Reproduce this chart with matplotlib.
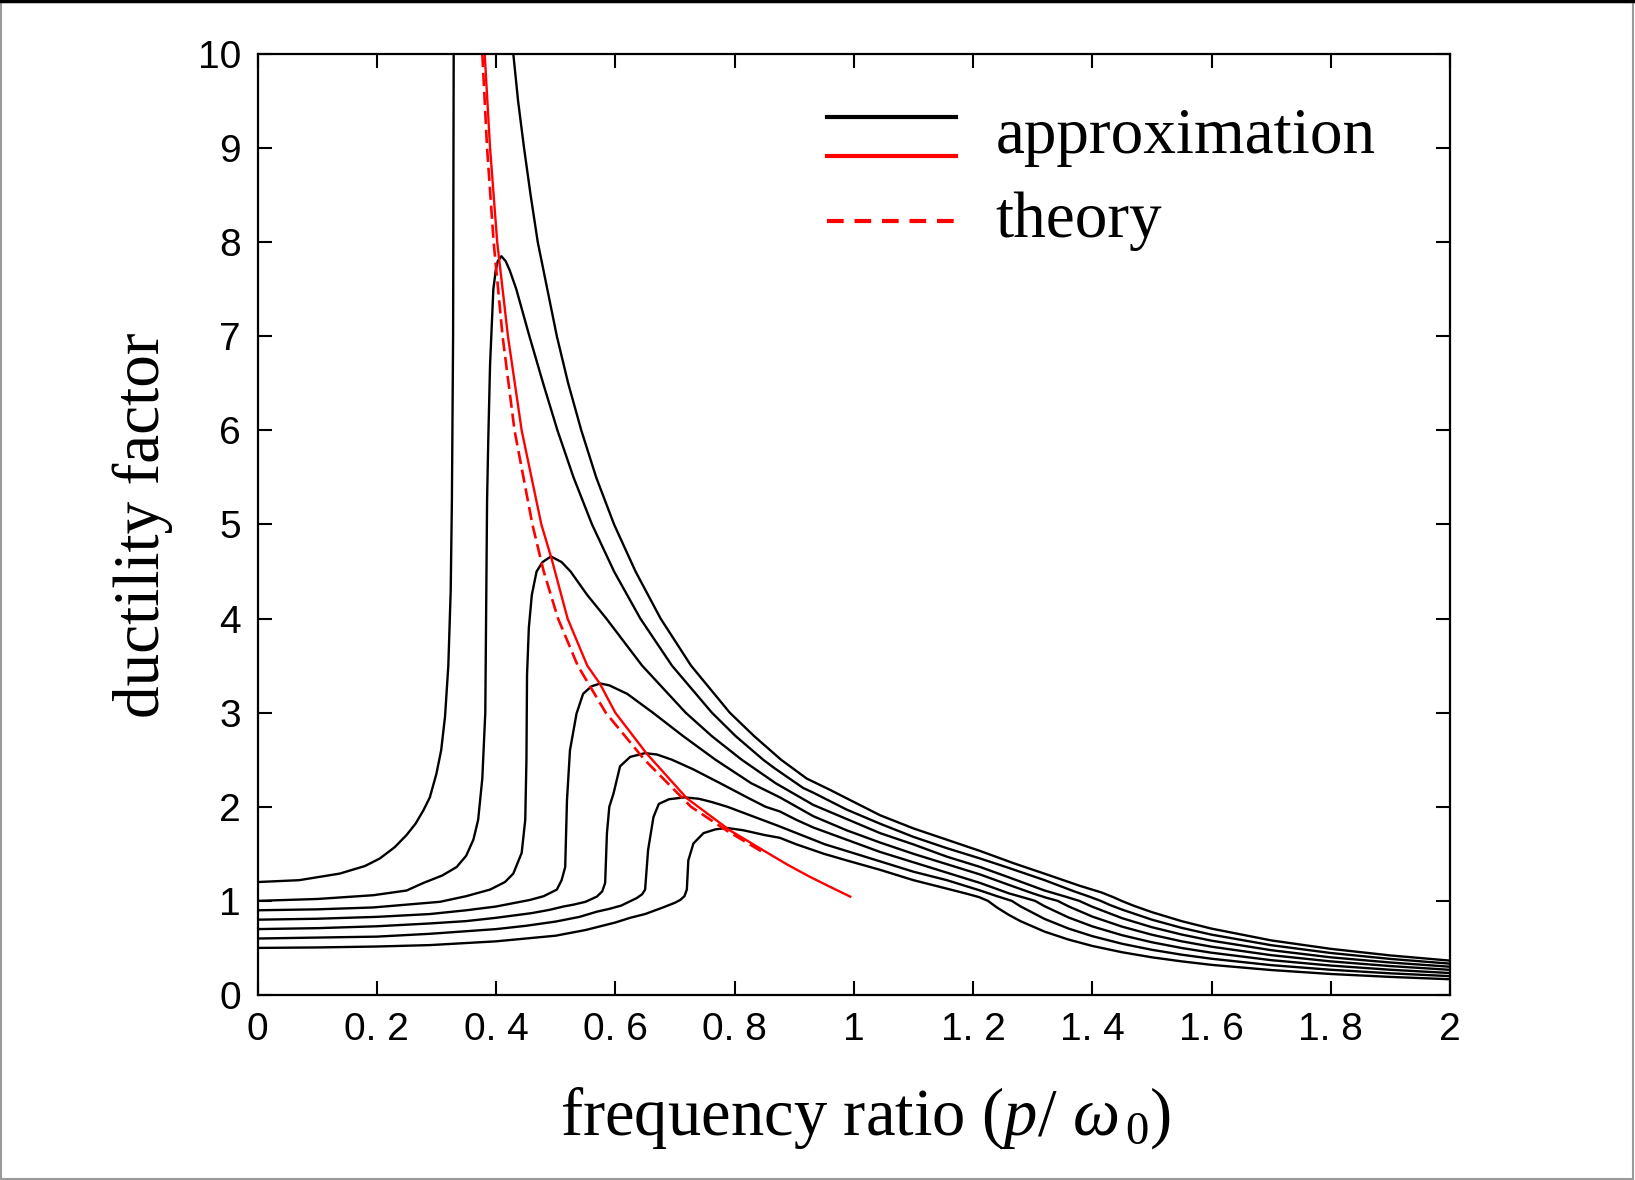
import matplotlib
matplotlib.use("Agg")
import matplotlib.pyplot as plt
from matplotlib.lines import Line2D
from matplotlib.patches import Rectangle

plt.rcParams["mathtext.fontset"] = "custom"
plt.rcParams["mathtext.rm"] = "Liberation Serif"
plt.rcParams["mathtext.it"] = "Liberation Serif:italic"

# ---- data: ductility factor vs frequency ratio ----
# curve starting at 1.2 : lower branch runs off the top, upper branch comes back
c120_lo_x = [0.0, 0.07, 0.138, 0.18, 0.205, 0.23, 0.25, 0.265, 0.278, 0.289,
             0.300, 0.308, 0.3145, 0.320, 0.324, 0.326, 0.328, 0.329]
c120_lo_y = [1.20, 1.22, 1.29, 1.37, 1.45, 1.57, 1.70, 1.82, 1.96, 2.10,
             2.35, 2.60, 2.96, 3.50, 4.30, 5.26, 7.00, 10.0]
c120_hi_x = [0.429, 0.437, 0.447, 0.458, 0.470, 0.486, 0.502, 0.521, 0.543,
             0.568, 0.598, 0.634, 0.676, 0.727, 0.792, 0.833, 0.878, 0.921,
             0.960, 0.988, 1.044, 1.100, 1.156, 1.212, 1.268, 1.324, 1.379,
             1.415, 1.435, 1.449, 1.47, 1.50, 1.55, 1.60, 1.70, 1.80, 1.90,
             2.00]
c120_hi_y = [10.0, 9.5, 9.0, 8.5, 8.0, 7.5, 7.0, 6.5, 6.0,
             5.5, 5.0, 4.5, 4.0, 3.5, 3.0, 2.75, 2.5, 2.3,
             2.18, 2.09, 1.91, 1.77, 1.65, 1.53, 1.40, 1.28, 1.16,
             1.09, 1.04, 1.00, 0.947, 0.88, 0.784, 0.705, 0.58, 0.49, 0.42,
             0.365]

c100_x = [0.0, 0.10, 0.194, 0.250, 0.278, 0.310, 0.334, 0.350, 0.362, 0.370,
          0.377, 0.382, 0.385, 0.387, 0.390, 0.3955, 0.3995, 0.403, 0.409,
          0.416, 0.423, 0.434, 0.456, 0.479, 0.503, 0.530, 0.561, 0.598,
          0.642, 0.695, 0.762, 0.802, 0.848, 0.867, 0.915, 0.932, 0.988,
          1.044, 1.100, 1.156, 1.212, 1.260, 1.320, 1.370, 1.395, 1.414,
          1.43, 1.45, 1.50, 1.55, 1.60, 1.70, 1.80, 1.90, 2.00]
c100_y = [1.00, 1.02, 1.06, 1.11, 1.19, 1.27, 1.36, 1.48, 1.65, 1.86,
          2.30, 3.00, 5.26, 5.90, 6.70, 7.50, 7.70, 7.80, 7.85,
          7.80, 7.70, 7.50, 7.00, 6.50, 6.00, 5.50, 5.00, 4.50,
          4.00, 3.50, 3.00, 2.75, 2.50, 2.41, 2.20, 2.15, 1.97,
          1.82, 1.68, 1.56, 1.45, 1.35, 1.22, 1.10, 1.045, 1.00,
          0.955, 0.907, 0.80, 0.713, 0.641, 0.529, 0.446, 0.383, 0.333]

c090_x = [0.0, 0.10, 0.194, 0.250, 0.306, 0.350, 0.390, 0.415, 0.429, 0.443,
          0.449, 0.451, 0.452, 0.455, 0.460, 0.468, 0.478, 0.492, 0.510,
          0.525, 0.553, 0.585, 0.645, 0.718, 0.762, 0.812, 0.869, 0.932,
          0.988, 1.044, 1.100, 1.156, 1.212, 1.260, 1.320, 1.355, 1.378,
          1.40, 1.45, 1.50, 1.55, 1.60, 1.70, 1.80, 1.90, 2.00]
c090_y = [0.90, 0.91, 0.93, 0.96, 0.99, 1.05, 1.12, 1.20, 1.29, 1.51,
          1.86, 2.50, 3.40, 3.90, 4.25, 4.50, 4.60, 4.66, 4.60,
          4.50, 4.25, 4.00, 3.50, 3.00, 2.75, 2.50, 2.25, 2.02,
          1.87, 1.72, 1.60, 1.47, 1.36, 1.25, 1.11, 1.045, 1.00,
          0.9375, 0.816, 0.72, 0.642, 0.577, 0.476, 0.40, 0.345, 0.30]

c080_x = [0.0, 0.10, 0.20, 0.289, 0.35, 0.40, 0.457, 0.480, 0.502, 0.510,
          0.516, 0.519, 0.524, 0.535, 0.546, 0.560, 0.575, 0.590, 0.620,
          0.663, 0.714, 0.768, 0.828, 0.876, 0.932, 0.988, 1.044, 1.100,
          1.156, 1.212, 1.260, 1.300, 1.322, 1.342, 1.36, 1.40, 1.45, 1.50,
          1.55, 1.60, 1.70, 1.80, 1.90, 2.00]
c080_y = [0.80, 0.81, 0.83, 0.86, 0.90, 0.94, 1.01, 1.05, 1.12, 1.22,
          1.36, 2.07, 2.60, 2.99, 3.20, 3.28, 3.31, 3.29, 3.20,
          3.00, 2.75, 2.50, 2.25, 2.10, 1.90, 1.75, 1.62, 1.50,
          1.39, 1.28, 1.17, 1.08, 1.035, 1.00, 0.942, 0.833, 0.726, 0.64,
          0.570, 0.513, 0.423, 0.357, 0.307, 0.267]

c070_x = [0.0, 0.10, 0.20, 0.289, 0.35, 0.40, 0.46, 0.49, 0.513, 0.530,
          0.550, 0.569, 0.578, 0.583, 0.586, 0.590, 0.597, 0.608, 0.625,
          0.650, 0.670, 0.695, 0.730, 0.776, 0.821, 0.852, 0.876, 0.904,
          0.932, 0.988, 1.044, 1.100, 1.156, 1.212, 1.260, 1.285, 1.304,
          1.32, 1.36, 1.40, 1.45, 1.50, 1.55, 1.60, 1.70, 1.80, 1.90, 2.00]
c070_y = [0.70, 0.71, 0.73, 0.76, 0.785, 0.82, 0.87, 0.905, 0.94, 0.96,
          0.99, 1.045, 1.10, 1.19, 1.72, 2.00, 2.14, 2.43, 2.53,
          2.57, 2.555, 2.50, 2.40, 2.25, 2.10, 2.00, 1.95, 1.86,
          1.78, 1.65, 1.52, 1.41, 1.30, 1.19, 1.08, 1.035, 1.00,
          0.943, 0.824, 0.729, 0.635, 0.56, 0.499, 0.449, 0.37, 0.3125,
          0.268, 0.233]

c060_x = [0.0, 0.10, 0.20, 0.289, 0.40, 0.45, 0.50, 0.54, 0.569, 0.590,
          0.610, 0.636, 0.645, 0.650, 0.655, 0.664, 0.673, 0.690, 0.716,
          0.740, 0.762, 0.788, 0.830, 0.872, 0.912, 0.952, 0.988, 1.044,
          1.100, 1.156, 1.212, 1.240, 1.265, 1.28, 1.32, 1.36, 1.40, 1.45,
          1.50, 1.55, 1.60, 1.70, 1.80, 1.90, 2.00]
c060_y = [0.60, 0.61, 0.62, 0.65, 0.70, 0.735, 0.78, 0.83, 0.885, 0.915,
          0.95, 1.03, 1.07, 1.12, 1.54, 1.89, 2.03, 2.08, 2.10,
          2.085, 2.05, 2.00, 1.90, 1.80, 1.70, 1.60, 1.53, 1.42,
          1.31, 1.22, 1.11, 1.05, 1.00, 0.94, 0.808, 0.706, 0.625, 0.544,
          0.48, 0.428, 0.385, 0.317, 0.268, 0.23, 0.20]

c050_x = [0.0, 0.10, 0.20, 0.289, 0.40, 0.50, 0.55, 0.60, 0.625, 0.65,
          0.68, 0.70, 0.709, 0.716, 0.720, 0.7225, 0.731, 0.748, 0.768,
          0.787, 0.815, 0.850, 0.876, 0.904, 0.950, 0.988, 1.044, 1.100,
          1.156, 1.190, 1.210, 1.225, 1.24, 1.26, 1.28, 1.32, 1.36, 1.40,
          1.45, 1.50, 1.55, 1.60, 1.70, 1.80, 1.90, 2.00]
c050_y = [0.50, 0.505, 0.515, 0.53, 0.57, 0.63, 0.69, 0.77, 0.82, 0.86,
          0.93, 0.98, 1.01, 1.05, 1.12, 1.43, 1.61, 1.72, 1.76,
          1.775, 1.75, 1.70, 1.67, 1.60, 1.50, 1.43, 1.33, 1.22,
          1.13, 1.075, 1.04, 1.00, 0.93, 0.851, 0.783, 0.673, 0.589, 0.521,
          0.454, 0.40, 0.357, 0.32, 0.265, 0.223, 0.192, 0.167]

# backbone: approximation (red solid) and theory (red dashed)
approx_x = [0.381, 0.390, 0.402, 0.420, 0.443, 0.476, 0.493, 0.520, 0.553,
            0.574, 0.600, 0.652, 0.720, 0.792, 0.858, 0.890, 0.925, 0.960,
            0.994]
approx_y = [10.0, 9.0, 8.0, 7.0, 6.0, 5.0, 4.64, 4.0, 3.5,
            3.31, 3.0, 2.57, 2.09, 1.75, 1.5, 1.38, 1.26, 1.15,
            1.045]
theory_x = [0.377, 0.385, 0.396, 0.411, 0.431, 0.461, 0.480, 0.504, 0.537,
            0.584, 0.649, 0.727, 0.786, 0.852]
theory_y = [10.0, 9.0, 8.0, 7.0, 6.0, 5.0, 4.5, 4.0, 3.5,
            3.0, 2.5, 2.0, 1.75, 1.5]

x_ticks = [0, 0.2, 0.4, 0.6, 0.8, 1.0, 1.2, 1.4, 1.6, 1.8, 2.0]
x_tick_labels = ["0", "0. 2", "0. 4", "0. 6", "0. 8", "1", "1. 2", "1. 4",
                 "1. 6", "1. 8", "2"]
y_ticks = list(range(0, 11))

black_x = [c120_lo_x, c120_hi_x, c100_x, c090_x, c080_x, c070_x, c060_x,
           c050_x]
black_y = [c120_lo_y, c120_hi_y, c100_y, c090_y, c080_y, c070_y, c060_y,
           c050_y]

fig = plt.figure(figsize=(16.35, 11.8), dpi=100)
ax = fig.add_axes([0.1575, 0.1568, 0.7294, 0.7975])

for xs, ys in zip(black_x, black_y):
    ax.plot(xs, ys, color="black", lw=1.7, solid_joinstyle="round")
ax.plot(theory_x, theory_y, color="red", lw=1.9, dashes=(5, 2.2))
ax.plot(approx_x, approx_y, color="red", lw=1.7, solid_joinstyle="round")

ax.set_xlim(0, 2)
ax.set_ylim(0, 10)
ax.set_xticks(x_ticks)
ax.set_xticklabels(x_tick_labels)
ax.set_yticks(y_ticks)
tick_font = ["Liberation Sans Narrow", "Liberation Sans"]
for lab in ax.get_xticklabels() + ax.get_yticklabels():
    lab.set_family(tick_font)
    lab.set_fontsize(28)
ax.tick_params(direction="in", length=10, width=1.5, top=True, right=True)
ax.tick_params(axis="x", pad=12)
ax.tick_params(axis="y", pad=12)
for sp in ax.spines.values():
    sp.set_linewidth(1.6)

serif = ["Liberation Serif", "DejaVu Serif"]
fig.text(0.0874, 0.5547, "ductility factor", rotation=90, ha="center",
         va="center", family=serif, fontsize=47)
fig.text(0.5294, 0.0386, r"frequency ratio ($p$/ $\omega_{\,0}$)",
         ha="center", va="baseline", family=serif, fontsize=48)

# legend drawn by hand: black + red stacked for "approximation"
tr = ax.transAxes
ax.add_line(Line2D([0.4775, 0.586], [0.933, 0.933], color="black", lw=3,
                   transform=tr))
ax.add_line(Line2D([0.4775, 0.586], [0.892, 0.892], color="red", lw=3,
                   transform=tr))
ax.add_line(Line2D([0.4775, 0.586], [0.8225, 0.8225], color="red", lw=3,
                   dashes=(4, 2.6), transform=tr))
ax.text(0.619, 0.8945, "approximation", transform=tr, family=serif,
        fontsize=47, va="baseline")
ax.text(0.619, 0.805, "theory", transform=tr, family=serif,
        fontsize=47, va="baseline")

# outer frame of the picture
fig.patches.append(Rectangle((0.0005, 0.001), 0.998, 0.997,
                             transform=fig.transFigure, fill=False,
                             edgecolor="#9a9a9a", lw=1.5))
fig.add_artist(Line2D([0, 1], [0.999, 0.999], color="black", lw=2.5,
                      transform=fig.transFigure))

fig.savefig("out.png", dpi=100)
